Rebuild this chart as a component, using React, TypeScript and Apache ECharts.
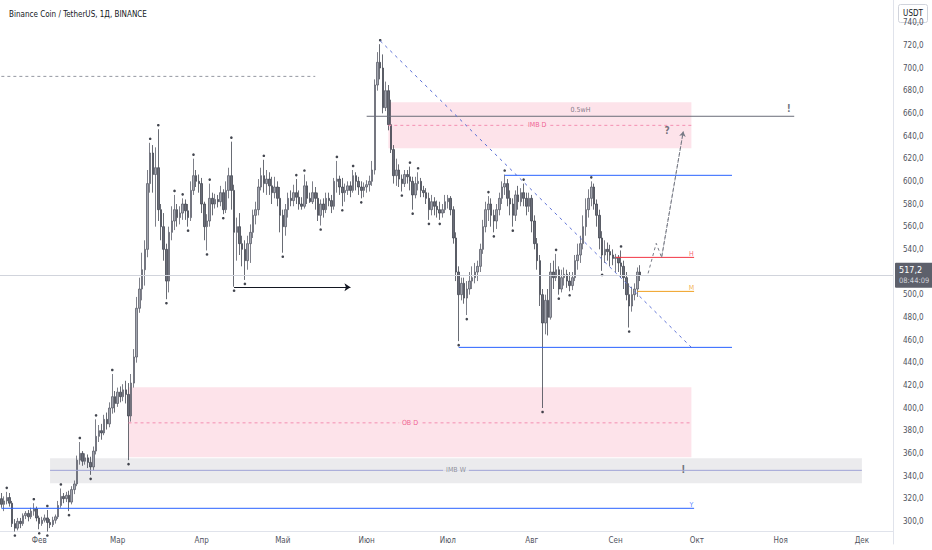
import React, { useEffect, useRef } from "react";
import * as echarts from "echarts";

const FONT = "'Liberation Sans Narrow', 'Arial Narrow', 'Nimbus Sans Narrow', 'DejaVu Sans Condensed', 'Roboto Condensed', Roboto, sans-serif";
const TITLE = "Binance Coin / TetherUS, 1Д, BINANCE";
const CURRENCY = "USDT";
const LAST_PRICE = 517.2;
const COUNTDOWN = "08:44:09";
const MONTHS = ["Янв", "Фев", "Мар", "Апр", "Май", "Июн", "Июл", "Авг", "Сен", "Окт", "Ноя", "Дек"];

// daily bars [open, close, low, high], from 2024-01-18
const janBars = [
  [320, 315, 312, 325], [315, 318, 309, 322], [318, 321, 315, 326], [321, 316, 313, 325],
  [316, 298, 295, 318], [298, 294, 291, 302], [294, 300, 292, 303], [300, 298, 294, 303],
  [298, 305, 296, 307], [305, 307, 302, 309], [307, 304, 300, 310], [304, 309, 302, 312],
  [309, 311, 305, 316], [311, 303, 300, 313],
];
const febBars = [
  [303, 298, 293, 305], [298, 301, 296, 304], [301, 303, 299, 306], [303, 299, 291, 310],
  [299, 297, 294, 302], [297, 301, 295, 304], [301, 304, 298, 306], [304, 314, 302, 318],
  [314, 322, 312, 329], [322, 320, 316, 325], [320, 323, 317, 326], [323, 317, 309, 327],
  [317, 328, 315, 331], [328, 333, 324, 336], [333, 354, 331, 358], [354, 360, 350, 370],
  [360, 353, 349, 362], [353, 356, 350, 360], [356, 352, 347, 359], [352, 348, 341, 357],
  [348, 362, 345, 366], [362, 375, 359, 390], [375, 380, 370, 385], [380, 378, 372, 386],
  [378, 390, 376, 394], [390, 386, 381, 396], [386, 400, 383, 405], [400, 410, 395, 430],
  [410, 404, 396, 415],
];
const marBars = [
  [404, 414, 401, 418], [414, 410, 405, 419], [410, 416, 406, 421], [416, 412, 404, 424],
  [412, 393, 354, 422], [393, 422, 388, 430], [422, 445, 418, 452], [445, 488, 440, 498],
  [488, 505, 484, 515], [505, 522, 495, 537], [522, 540, 508, 548], [540, 598, 533, 610],
  [598, 625, 590, 634], [625, 606, 590, 632], [606, 612, 560, 630], [612, 575, 565, 646],
  [575, 560, 548, 580], [560, 540, 530, 572], [540, 512, 496, 545], [512, 555, 502, 560],
  [555, 565, 548, 578], [565, 575, 557, 588], [575, 568, 560, 580], [568, 572, 562, 578],
  [572, 580, 566, 585], [580, 574, 566, 584], [574, 568, 560, 580], [568, 592, 565, 600],
  [592, 605, 588, 620], [605, 600, 595, 610], [600, 598, 590, 606],
];
const aprBars = [
  [598, 580, 572, 603], [580, 560, 548, 582], [560, 565, 539, 571], [565, 585, 560, 598],
  [585, 580, 570, 590], [580, 584, 576, 589], [584, 582, 577, 588], [582, 590, 578, 596],
  [590, 575, 571, 593], [575, 592, 572, 600], [592, 605, 585, 612], [605, 592, 575, 635],
  [592, 555, 507, 597], [555, 560, 530, 568], [560, 545, 535, 572], [545, 540, 525, 552],
  [540, 530, 513, 548], [530, 545, 522, 552], [545, 555, 528, 562], [555, 570, 550, 575],
  [570, 575, 562, 582], [575, 595, 570, 602], [595, 605, 592, 612], [605, 598, 590, 619],
  [598, 602, 588, 610], [602, 596, 588, 608], [596, 590, 580, 604], [590, 595, 585, 604],
  [595, 585, 578, 600], [585, 570, 555, 595],
];
const mayBars = [
  [570, 560, 537, 575], [560, 575, 552, 580], [575, 585, 568, 590], [585, 583, 578, 592],
  [583, 590, 578, 597], [590, 586, 580, 602], [586, 580, 575, 592], [580, 578, 575, 586],
  [578, 596, 576, 606], [596, 585, 580, 600], [585, 582, 581, 590], [582, 590, 580, 600],
  [590, 585, 575, 595], [585, 570, 565, 590], [570, 580, 561, 584], [580, 575, 568, 585],
  [575, 585, 572, 590], [585, 583, 578, 590], [583, 578, 572, 588], [578, 600, 575, 603],
  [600, 602, 590, 618], [602, 595, 588, 605], [595, 590, 578, 603], [590, 592, 582, 598],
  [592, 596, 588, 600], [596, 592, 586, 600], [592, 605, 590, 610], [605, 600, 592, 608],
  [600, 595, 588, 604], [595, 592, 585, 600], [592, 595, 586, 599],
];
const junBars = [
  [595, 597, 590, 601], [597, 600, 591, 605], [600, 610, 596, 618], [610, 685, 606, 690],
  [685, 705, 680, 714], [705, 700, 690, 721], [700, 665, 660, 712], [665, 680, 662, 688],
  [680, 650, 645, 685], [650, 628, 625, 672], [628, 605, 598, 632], [605, 610, 596, 620],
  [610, 602, 595, 615], [602, 598, 591, 606], [598, 606, 595, 610], [606, 604, 598, 610],
  [604, 600, 592, 613], [600, 588, 575, 604], [588, 598, 585, 604], [598, 600, 592, 608],
  [600, 592, 586, 603], [592, 590, 586, 596], [590, 585, 580, 594], [585, 575, 566, 590],
  [575, 582, 570, 588], [582, 578, 570, 586], [578, 575, 568, 583], [575, 572, 566, 582],
  [572, 575, 568, 580], [575, 582, 572, 588],
];
const julBars = [
  [582, 585, 576, 588], [585, 575, 570, 587], [575, 550, 545, 578], [550, 520, 512, 555],
  [520, 500, 459, 525], [500, 510, 495, 515], [510, 497, 492, 515], [497, 505, 482, 512],
  [505, 512, 500, 520], [512, 515, 505, 525], [515, 520, 510, 528], [520, 525, 512, 530],
  [525, 540, 520, 545], [540, 560, 536, 566], [560, 575, 555, 582], [575, 580, 565, 587],
  [580, 570, 560, 585], [570, 565, 555, 575], [565, 575, 558, 580], [575, 585, 570, 590],
  [585, 595, 580, 600], [595, 598, 588, 606], [598, 585, 578, 602], [585, 580, 570, 592],
  [580, 570, 560, 585], [570, 588, 565, 592], [588, 582, 575, 596], [582, 590, 578, 594],
  [590, 585, 578, 598], [585, 578, 570, 590], [578, 585, 573, 590],
];
const augBars = [
  [585, 565, 555, 588], [565, 545, 540, 570], [545, 530, 522, 550], [530, 500, 490, 535],
  [500, 475, 400, 505], [475, 495, 465, 500], [495, 480, 464, 505], [480, 520, 478, 528],
  [520, 515, 505, 530], [515, 522, 512, 536], [522, 505, 500, 525], [505, 515, 502, 522],
  [515, 518, 508, 524], [518, 512, 506, 522], [512, 508, 503, 520], [508, 515, 504, 520],
  [515, 530, 512, 535], [530, 535, 522, 545], [535, 545, 528, 552], [545, 560, 540, 570],
  [560, 575, 552, 585], [575, 585, 568, 593], [585, 595, 578, 600], [595, 580, 575, 598],
  [580, 570, 560, 584], [570, 550, 540, 575], [550, 535, 521, 556], [535, 540, 528, 548],
  [540, 538, 530, 546], [538, 535, 525, 544], [535, 532, 526, 540],
];
const sepBars = [
  [532, 533, 520, 536], [533, 528, 520, 535], [528, 525, 515, 539], [525, 515, 505, 530],
  [515, 500, 495, 520], [500, 490, 471, 510], [490, 500, 485, 507], [500, 505, 495, 510],
  [505, 520, 498, 524], [520, 517.2, 512, 526],
];

// drawings: [startDate, startPrice, endDate, endPrice]
const blueHigh = [["2024-07-22", 605.3, "2024-10-14", 605.3]];
const blueLow = [["2024-07-05", 453.5, "2024-10-14", 453.5]];
const blueYearly = [["2024-01-18", 311.5, "2024-09-30", 311.5]];
const trendLine = [["2024-06-06", 724, "2024-09-29", 453.5]];
const topDashed = [["2024-01-18", 692.6, "2024-05-13", 692.6]];
const halfLine = [["2024-06-01", 657.4, "2024-11-06", 657.4]];
const redLevel = [["2024-09-01", 532.9, "2024-09-30", 532.9]];
const orangeLevel = [["2024-09-09", 502.9, "2024-09-30", 502.9]];
const arrowLine = [["2024-04-13", 506.5, "2024-05-26", 506.5]];
const pinkMidTop = [["2024-06-09", 649.4, "2024-09-29", 649.4]];
const pinkMidLow = [["2024-03-05", 386.9, "2024-09-29", 386.9]];
const grayMid = [["2024-02-05", 345, "2024-12-01", 345]];
const pinkZones = [
  ["2024-06-09", 669.7, "2024-09-29", 629.1],
  ["2024-03-05", 418.2, "2024-09-29", 356.5],
];
const grayZones = [["2024-02-05", 355.6, "2024-12-01", 333.5]];
const pathDates = ["2024-09-13", "2024-09-16", "2024-09-18", "2024-09-26"];
const pathPrices = [518.8, 545.3, 532.9, 644];

// text notes: [date, price, text, kind]
const notes = [
  ["2024-08-19", 662.6, "0.5wH", "gray"],
  ["2024-08-03", 649.4, "IMB D", "pink"],
  ["2024-06-17", 386.9, "OB D", "pink"],
  ["2024-07-04", 345, "IMB W", "grayzone"],
  ["2024-09-20", 645, "?", "mark"],
  ["2024-11-04", 664.4, "!", "mark"],
  ["2024-09-26", 345.9, "!", "mark"],
  ["2024-09-29", 536, "H", "red"],
  ["2024-09-29", 506, "M", "orange"],
  ["2024-09-29", 314.8, "Y", "blue"],
];

function buildDates(): string[] {
  const out: string[] = [];
  const start = Date.UTC(2024, 0, 18);
  for (let i = 0; i < 330; i++) out.push(new Date(start + i * 86400000).toISOString().slice(0, 10));
  return out;
}

const noteStyles: any = {
  gray: { color: "#5d606b", fontSize: 7 },
  pink: { color: "#ec407a", fontSize: 7, backgroundColor: "#fde3ea" },
  grayzone: { color: "#787b86", fontSize: 7, backgroundColor: "#ebebed" },
  mark: { color: "#50535e", fontSize: 10, fontWeight: "bold" },
  red: { color: "#f23645", fontSize: 7 },
  orange: { color: "#f0a020", fontSize: 7 },
  blue: { color: "#2962ff", fontSize: 7 },
};

export default function App() {
  const ref = useRef<HTMLDivElement>(null);
  useEffect(() => {
    document.body.style.margin = "0";
    if (!ref.current) return;
    const chart = echarts.init(ref.current, undefined, { renderer: "svg" });
    const dates = buildDates();
    const bars = [...janBars, ...febBars, ...marBars, ...aprBars, ...mayBars, ...junBars, ...julBars, ...augBars, ...sepBars];
    const highs = bars.map((b) => b[3]);
    const lows = bars.map((b) => b[2]);
    const upFr: any[] = [];
    const dnFr: any[] = [];
    for (let i = 2; i < bars.length - 2; i++) {
      if (highs[i] > highs[i - 1] && highs[i] > highs[i - 2] && highs[i] > highs[i + 1] && highs[i] > highs[i + 2])
        upFr.push([dates[i], highs[i]]);
      if (lows[i] < lows[i - 1] && lows[i] < lows[i - 2] && lows[i] < lows[i + 1] && lows[i] < lows[i + 2])
        dnFr.push([dates[i], lows[i]]);
    }

    // a drawing as a plain line series: values only at its two ends, joined across the gap
    const drawing = (name: string, list: any[], color: string, type: any, width = 1) => {
      const s = list[0];
      const data = dates.map((d) => (d === s[0] ? s[1] : d === s[2] ? s[3] : null));
      return {
        name,
        type: "line",
        data,
        connectNulls: true,
        symbol: "none",
        silent: true,
        z: 3,
        color,
        lineStyle: { color, type, width },
      };
    };

    const pathData = dates.map((d) => {
      const k = pathDates.indexOf(d);
      return k >= 0 ? pathPrices[k] : null;
    });
    const lastK = pathDates.length - 1;

    const option: any = {
      animation: false,
      title: {
        text: TITLE,
        left: 4,
        top: 5,
        textStyle: { fontSize: 8, fontWeight: "normal", color: "#131722", fontFamily: FONT },
      },
      grid: { left: -2, right: 39, top: 0, height: 544 },
      xAxis: {
        type: "category",
        data: dates,
        boundaryGap: true,
        offset: -13,
        axisLine: { show: true, lineStyle: { color: "#e0e3eb" } },
        axisTick: { show: false },
        splitLine: { show: false },
        axisLabel: {
          interval: (idx: number, val: string) => val.slice(8) === "01",
          formatter: (val: string) => MONTHS[Number(val.slice(5, 7)) - 1],
          fontSize: 8,
          color: "#50535e",
          margin: 5,
          fontFamily: FONT,
        },
      },
      yAxis: {
        type: "value",
        position: "right",
        min: 280,
        max: 760,
        interval: 20,
        axisLine: { show: true, lineStyle: { color: "#e0e3eb" } },
        axisTick: { show: false },
        splitLine: { show: false },
        axisLabel: {
          margin: 10,
          fontSize: 8,
          color: "#50535e",
          fontFamily: FONT,
          formatter: (v: number) =>
            v <= 280 || v >= 760 || Math.abs(v - LAST_PRICE) < 10 ? "" : v.toFixed(1).replace(".", ","),
        },
      },
      series: [
        {
          name: "zonesPink",
          type: "line",
          data: [],
          silent: true,
          markArea: {
            silent: true,
            itemStyle: { color: "rgba(242, 54, 105, 0.14)" },
            data: pinkZones.map((z) => [{ coord: [z[0], z[1]] }, { coord: [z[2], z[3]] }]),
          },
        },
        {
          name: "zonesGray",
          type: "line",
          data: [],
          silent: true,
          markArea: {
            silent: true,
            itemStyle: { color: "rgba(120, 123, 134, 0.15)" },
            data: grayZones.map((z) => [{ coord: [z[0], z[1]] }, { coord: [z[2], z[3]] }]),
          },
        },
        {
          name: "BNBUSDT",
          type: "candlestick",
          data: bars,
          barWidth: 2,
          itemStyle: {
            color: "#a3a6af",
            color0: "#6a6d78",
            borderColor: "#5d606b",
            borderColor0: "#434651",
            borderWidth: 0.8,
          },
          markLine: {
            silent: true,
            symbol: ["none", "none"],
            lineStyle: { color: "#d1d4dc", type: "solid", width: 1 },
            label: {
              show: true,
              position: "end",
              distance: 2,
              formatter: "{p|" + String(LAST_PRICE).replace(".", ",") + "}\n{t|" + COUNTDOWN + "}",
              backgroundColor: "#5d606b",
              padding: [2, 4, 2, 4],
              borderRadius: 1,
              rich: {
                p: { color: "#ffffff", fontSize: 9, lineHeight: 11, fontFamily: FONT },
                t: { color: "#d1d4dc", fontSize: 7.5, lineHeight: 10, fontFamily: FONT },
              },
            },
            data: [{ yAxis: LAST_PRICE }],
          },
        },
        {
          name: "fractalHigh",
          type: "scatter",
          data: upFr,
          symbol: "circle",
          symbolSize: 2.6,
          symbolOffset: [0, -4],
          itemStyle: { color: "#131722" },
          silent: true,
        },
        {
          name: "fractalLow",
          type: "scatter",
          data: dnFr,
          symbol: "circle",
          symbolSize: 2.6,
          symbolOffset: [0, 4],
          itemStyle: { color: "#131722" },
          silent: true,
        },
        drawing("topDashed", topDashed, "#9598a1", [3, 3]),
        drawing("halfLine", halfLine, "#6a6d78", "solid"),
        drawing("pinkMidTop", pinkMidTop, "#f48fb1", [3, 3]),
        drawing("pinkMidLow", pinkMidLow, "#f48fb1", [3, 3]),
        drawing("grayMid", grayMid, "#9fa3d6", "solid"),
        drawing("blueHigh", blueHigh, "#2962ff", "solid"),
        drawing("blueLow", blueLow, "#2962ff", "solid"),
        drawing("blueYearly", blueYearly, "#2962ff", "solid"),
        drawing("trend", trendLine, "#5b6fd6", [3, 4]),
        drawing("red", redLevel, "#f23645", "solid"),
        drawing("orange", orangeLevel, "#f0a020", "solid"),
        {
          name: "arrowLine",
          type: "line",
          data: [],
          silent: true,
          color: "#131722",
          markLine: {
            silent: true,
            symbol: ["none", "arrow"],
            symbolSize: 6,
            label: { show: false },
            lineStyle: { color: "#131722", type: "solid", width: 1 },
            data: arrowLine.map((s) => [{ coord: [s[0], s[1]] }, { coord: [s[2], s[3]] }]),
          },
        },
        {
          name: "projection",
          type: "line",
          data: pathData,
          connectNulls: true,
          symbol: "none",
          silent: true,
          z: 3,
          color: "#787b86",
          lineStyle: { color: "#787b86", type: [3, 3], width: 1 },
          markLine: {
            silent: true,
            symbol: ["none", "arrow"],
            symbolSize: 5,
            label: { show: false },
            lineStyle: { color: "#787b86", type: [3, 3], width: 1 },
            data: [
              [
                { coord: [pathDates[lastK - 1], pathPrices[lastK - 1]] },
                { coord: [pathDates[lastK], pathPrices[lastK]] },
              ],
            ],
          },
        },
        {
          name: "notes",
          type: "scatter",
          z: 10,
          silent: true,
          symbolSize: 1,
          itemStyle: { color: "rgba(0,0,0,0)" },
          data: notes.map((n) => {
            const st = noteStyles[n[3] as string];
            return {
              value: [n[0], n[1]],
              label: {
                show: true,
                position: "inside",
                formatter: n[2],
                fontFamily: FONT,
                color: st.color,
                fontSize: st.fontSize,
                fontWeight: st.fontWeight || "normal",
                backgroundColor: st.backgroundColor || "transparent",
                padding: st.backgroundColor ? [0, 3] : 0,
              },
            };
          }),
        },
      ],
      graphic: [
        {
          type: "group",
          right: 4,
          top: 4,
          z: 100,
          children: [
            {
              type: "rect",
              shape: { x: 0, y: 0, width: 29, height: 18, r: 2 },
              style: { fill: "#ffffff", stroke: "#d1d4dc", lineWidth: 1 },
            },
            {
              type: "text",
              x: 14.5,
              y: 9,
              style: {
                text: CURRENCY,
                fill: "#131722",
                fontSize: 8,
                fontFamily: FONT,
                align: "center",
                verticalAlign: "middle",
              },
            },
          ],
        },
      ],
    };
    chart.setOption(option);
    return () => chart.dispose();
  }, []);
  return <div ref={ref} style={{ width: 932, height: 550 }} />;
}
